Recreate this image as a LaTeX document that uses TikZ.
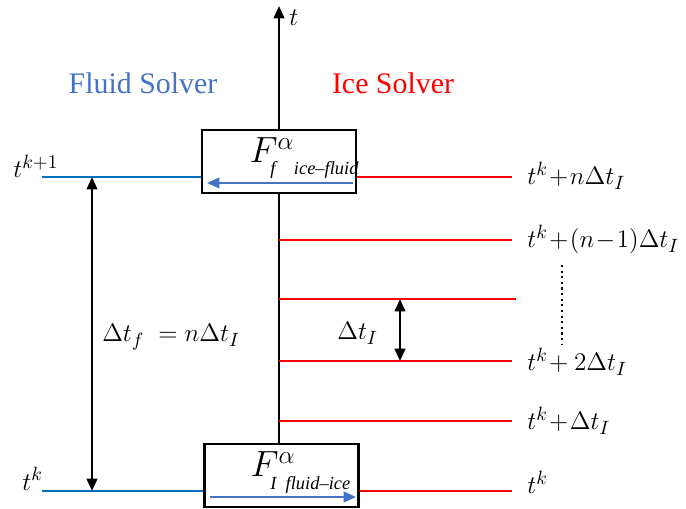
\documentclass[tikz,border=0pt]{standalone}
\usepackage{fontspec}
\setmainfont{Liberation Serif}
\usetikzlibrary{arrows.meta,positioning}

\definecolor{fluidblue}{RGB}{68,114,196}
\definecolor{lineblue}{RGB}{0,112,192}
\definecolor{icered}{RGB}{255,0,0}

\tikzset{
  fluidline/.style={lineblue, line width=1.3pt},
  iceline/.style={icered, line width=1.3pt},
  solverbox/.style={draw, line width=1.3pt, minimum width=3.08cm, minimum height=1.26cm, inner sep=0pt},
  timelbl/.style={font=\fontsize{15.5}{18}\selectfont, inner sep=0pt},
  headlbl/.style={font=\fontsize{17}{20}\selectfont, inner sep=0pt},
  fluxlbl/.style={font=\fontsize{21}{23}\selectfont, inner sep=0pt},
  sublbl/.style={font=\fontsize{10.5}{12}\selectfont\itshape, inner sep=0pt},
}

\begin{document}
\begin{tikzpicture}[x=0.02cm, y=-0.02cm, >={Triangle[length=7pt, width=6pt]}]
  \useasboundingbox (0,0) rectangle (686,509);

  % solver boxes
  \node[solverbox] (topbox) at (279,161.5) {};
  \node[solverbox] (botbox) at (281.5,475.5) {};

  % time axis
  \coordinate (tip) at (279,6);
  \draw[line width=1.3pt] (tip |- botbox.north) -- (tip |- topbox.south);
  \draw[line width=1.3pt, ->] (tip |- topbox.north) -- (tip);
  \node[timelbl, anchor=base west] (taxis) at (289,26) {$t$};

  % headings
  \node[headlbl, text=fluidblue] (fluid) at (143,83) {Fluid Solver};
  \node[headlbl, text=icered] (ice) at (393,83) {Ice Solver};

  % fluid side
  \coordinate (fa) at (42,177);
  \coordinate (fb) at (42,491);
  \draw[fluidline] (fa) -- (fa -| topbox.west);
  \draw[fluidline] (fb) -- (fb -| botbox.west);
  \node[timelbl, anchor=base west] (tk1) at (13,178) {$t^{k+1}$};
  \node[timelbl, anchor=base west] (tk) at (22,490) {$t^{k}$};
  \coordinate (da) at (92,177);
  \coordinate (db) at (92,491);
  \draw[line width=1.3pt, <->] (da) -- (db);
  \node[timelbl, anchor=base west] (dtf) at (102,342) {$\Delta t_f\; = n\Delta t_I$};

  % ice side
  \coordinate (ia) at (512,177);
  \coordinate (ib) at (512,240);
  \coordinate (ic) at (516,299);
  \coordinate (id) at (512,361);
  \coordinate (ie) at (512,421);
  \coordinate (ig) at (512,491);
  \draw[iceline] (topbox.east |- ia) -- (ia);
  \draw[iceline] (tip |- ib) -- (ib);
  \draw[iceline] (tip |- ic) -- (ic);
  \draw[iceline] (tip |- id) -- (id);
  \draw[iceline] (tip |- ie) -- (ie);
  \draw[iceline] (botbox.east |- ig) -- (ig);
  \node[timelbl, anchor=base west] (la) at (527,185) {$t^k\!+\!n\Delta t_I$};
  \node[timelbl, anchor=base west] (lb) at (527,248) {$t^k\!+\!(n\!-\!1)\Delta t_I$};
  \node[timelbl, anchor=base west] (ld) at (527,371) {$t^k\!+2\Delta t_I$};
  \node[timelbl, anchor=base west] (le) at (527,430) {$t^k\!+\!\Delta t_I$};
  \node[timelbl, anchor=base west] (lg) at (527,494) {$t^k$};
  \draw[line width=1.2pt, dotted] (562,265) -- (562,345);

  % ice step
  \coordinate (sa) at (400,299);
  \coordinate (sb) at (400,361);
  \draw[line width=1.3pt, <->] (sa) -- (sb);
  \node[timelbl, anchor=base west] (dti) at (337,340) {$\Delta t_I$};

  % fluxes
  \node[fluxlbl] (ftop) at (272,150) {$F^{\alpha}$};
  \node[sublbl, anchor=base west] (stop) at (270,175) {f\quad ice–fluid};
  \draw[fluidblue, line width=1.3pt, ->] (353,183) -- (207,183);
  \node[fluxlbl] (fbot) at (273,464) {$F^{\alpha}$};
  \node[sublbl, anchor=base west] (sbot) at (270,489) {I\enspace fluid–ice};
  \draw[fluidblue, line width=1.3pt, ->] (210,497) -- (356,497);
\end{tikzpicture}
\end{document}
